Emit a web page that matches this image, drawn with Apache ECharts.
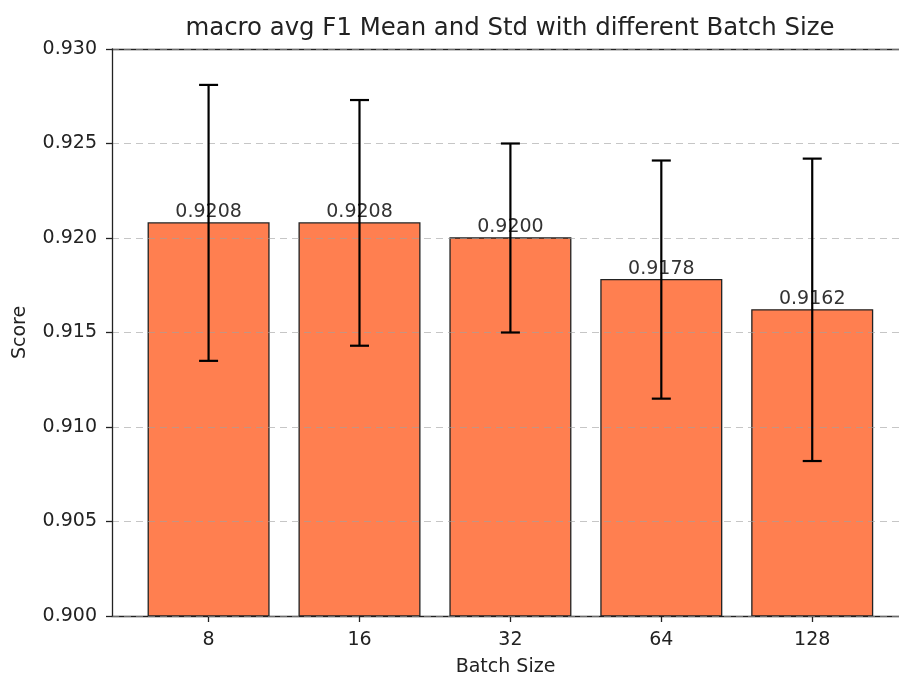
<!DOCTYPE html>
<html>
<head>
<meta charset="utf-8">
<script src="https://cdn.jsdelivr.net/npm/echarts@6/dist/echarts.min.js"></script>
<style>html,body{margin:0;padding:0;background:#fff;}#main{width:899px;height:677px;}</style>
</head>
<body>
<div id="main"></div>
<script>
const categories = ['8', '16', '32', '64', '128'];
const means = [0.9208, 0.9208, 0.9200, 0.9178, 0.9162];
const stds = [0.0073, 0.0065, 0.0050, 0.0063, 0.0080];
const yTicks = [0.900, 0.905, 0.910, 0.915, 0.920, 0.925, 0.930];

const FONT = 'DejaVu Sans';
const chart = echarts.init(document.getElementById('main'));

const barData = means.map((m, i) => [i, m]);
const errData = means.map((m, i) => [i, m - stds[i], m + stds[i]]);

chart.setOption({
  animation: false,
  backgroundColor: '#fff',
  title: {
    text: 'macro avg F1 Mean and Std with different Batch Size',
    left: 505, top: 12, textAlign: 'center',
    textStyle: { fontFamily: FONT, fontSize: 24.4, fontWeight: 'normal', color: '#222' }
  },
  grid: { left: 112, right: 0, top: 49, bottom: 61, containLabel: false, outerBoundsMode: 'none' },
  xAxis: [{
    type: 'value', min: -0.64, max: 4.575,
    name: 'Batch Size', nameLocation: 'middle', nameGap: 42,
    nameTextStyle: { fontFamily: FONT, fontSize: 19, color: '#222' },
    axisLine: { show: true, onZero: false, lineStyle: { color: '#222', width: 1.3 } },
    axisTick: { show: true, length: 6, customValues: [0, 1, 2, 3, 4], lineStyle: { color: '#222', width: 1.3 } },
    axisLabel: { customValues: [0, 1, 2, 3, 4], margin: 15, fontFamily: FONT, fontSize: 19, color: '#222',
      formatter: v => categories[Math.round(v)] },
    splitLine: { show: false }
  }, {
    type: 'value', min: -0.64, max: 4.575, position: 'top',
    axisLine: { show: true, onZero: false, lineStyle: { color: '#222', width: 1.3 } },
    axisTick: { show: false }, axisLabel: { show: false }, splitLine: { show: false }
  }],
  yAxis: {
    type: 'value', min: 0.9, max: 0.93, interval: 0.005, z: 3,
    name: 'Score', nameLocation: 'middle', nameGap: 82,
    nameTextStyle: { fontFamily: FONT, fontSize: 19, color: '#222' },
    axisLine: { show: true, onZero: false, lineStyle: { color: '#222', width: 1.3 } },
    axisTick: { show: true, length: 6, lineStyle: { color: '#222', width: 1.3 } },
    axisLabel: { margin: 15, fontFamily: FONT, fontSize: 19, color: '#222', formatter: v => v.toFixed(3) },
    splitLine: { show: true, lineStyle: { color: 'rgba(160,160,160,0.6)', type: [7, 5], width: 1.2 } }
  },
  series: [{
    type: 'custom',
    z: 2,
    data: barData,
    encode: { x: 0, y: 1 },
    renderItem: function (params, api) {
      const i = api.value(0), v = api.value(1);
      const p1 = api.coord([i - 0.4, v]);
      const p2 = api.coord([i + 0.4, 0.9]);
      const c = api.coord([i, v]);
      return {
        type: 'group',
        children: [{
          type: 'rect',
          shape: { x: p1[0], y: p1[1], width: p2[0] - p1[0], height: p2[1] - p1[1] },
          style: { fill: '#FF7F50', stroke: '#222', lineWidth: 1.3 }
        }, {
          type: 'text',
          style: { text: v.toFixed(4), x: c[0], y: c[1] - 1, align: 'center', verticalAlign: 'bottom',
            fontFamily: FONT, fontSize: 19, fill: '#333' },
          z2: 10
        }]
      };
    }
  }, {
    type: 'custom',
    z: 5,
    data: errData,
    encode: { x: 0, y: [1, 2] },
    renderItem: function (params, api) {
      const i = api.value(0);
      const lo = api.coord([i, api.value(1)]);
      const hi = api.coord([i, api.value(2)]);
      const cap = 9.5;
      const st = { stroke: '#000', lineWidth: 2.2 };
      return {
        type: 'group',
        children: [
          { type: 'line', shape: { x1: lo[0], y1: lo[1], x2: hi[0], y2: hi[1] }, style: st },
          { type: 'line', shape: { x1: lo[0] - cap, y1: lo[1], x2: lo[0] + cap, y2: lo[1] }, style: st },
          { type: 'line', shape: { x1: hi[0] - cap, y1: hi[1], x2: hi[0] + cap, y2: hi[1] }, style: st }
        ]
      };
    }
  }]
});
</script>
</body>
</html>
